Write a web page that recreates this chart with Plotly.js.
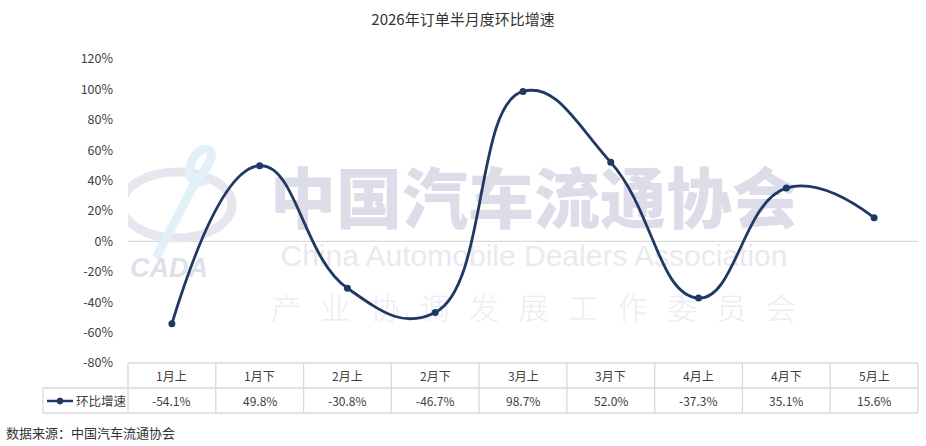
<!DOCTYPE html>
<html>
<head>
<meta charset="utf-8">
<script src="https://cdn.plot.ly/plotly-3.0.1.min.js"></script>
<style>html,body{margin:0;padding:0;background:#fff;}#chart{width:926px;height:446px;}</style>
</head>
<body>
<div id="chart"></div>
<script>
var categories = ['1月上','1月下','2月上','2月下','3月上','3月下','4月上','4月下','5月上'];
var values = [-54.1, 49.8, -30.8, -46.7, 98.7, 52.0, -37.3, 35.1, 15.6];
var valueLabels = ['-54.1%','49.8%','-30.8%','-46.7%','98.7%','52.0%','-37.3%','35.1%','15.6%'];
var seriesName = '环比增速';
var yTicks = [-80,-60,-40,-20,0,20,40,60,80,100,120];
var yTickText = ['-80%','-60%','-40%','-20%','0%','20%','40%','60%','80%','100%','120%'];

var FONT = '"Noto Sans CJK SC", "Microsoft YaHei", sans-serif';
var navy = '#203864';
var gridC = '#d9d9d9';
var n = categories.length;
var rowH = 25/304;
var shapes = [], annotations = [];

// table lines
for (var i=0;i<=n;i++){
  shapes.push({type:'line',xref:'paper',yref:'paper',x0:i/n,x1:i/n,y0:0,y1:-2*rowH,line:{color:gridC,width:1.3},layer:'above'});
}
var leftX = (43-128)/790;
shapes.push({type:'line',xref:'paper',yref:'paper',x0:0,x1:1,y0:0,y1:0,line:{color:gridC,width:1.3}});
shapes.push({type:'line',xref:'paper',yref:'paper',x0:leftX,x1:1,y0:-rowH,y1:-rowH,line:{color:gridC,width:1.3}});
shapes.push({type:'line',xref:'paper',yref:'paper',x0:leftX,x1:1,y0:-2*rowH,y1:-2*rowH,line:{color:gridC,width:1.3}});
shapes.push({type:'line',xref:'paper',yref:'paper',x0:leftX,x1:leftX,y0:-rowH,y1:-2*rowH,line:{color:gridC,width:1.3}});
// zero line across plot
shapes.push({type:'line',xref:'paper',yref:'y2',x0:0,x1:1,y0:0,y1:0,line:{color:gridC,width:1.3},layer:'below'});
// legend key in table
var ly = -1.5*rowH - 0.5/304;
shapes.push({type:'line',xref:'paper',yref:'paper',x0:(47-128)/790,x1:(73-128)/790,y0:ly,y1:ly,line:{color:navy,width:2.5}});
shapes.push({type:'circle',xref:'paper',yref:'paper',x0:(57-128)/790,x1:(63-128)/790,y0:ly-3/304,y1:ly+3/304,fillcolor:navy,line:{color:navy,width:1}});
annotations.push({xref:'paper',yref:'paper',x:(74-128)/790,y:-1.5*rowH,text:seriesName,showarrow:false,xanchor:'left',yanchor:'middle',
  font:{family:FONT,size:12.5,color:'#404040'}});

categories.forEach(function(c,i){
  annotations.push({xref:'paper',yref:'paper',x:(i+0.5)/n,y:-0.5*rowH,text:c,showarrow:false,xanchor:'center',yanchor:'middle',
    font:{family:FONT,size:12,color:'#404040'}});
  annotations.push({xref:'paper',yref:'paper',x:(i+0.5)/n,y:-1.5*rowH,text:valueLabels[i],showarrow:false,xanchor:'center',yanchor:'middle',
    font:{family:FONT,size:12,color:'#404040'}});
});

// source
annotations.push({xref:'paper',yref:'paper',x:(4-128)/790,y:(363-432)/304,text:'数据来源：中国汽车流通协会',showarrow:false,xanchor:'left',yanchor:'middle',
  font:{family:FONT,size:13,color:'#333333'}});

// watermark logo (below everything), on the hidden pixel-like base axes
shapes.push({type:'circle',xref:'x',yref:'y',x0:122,x1:232,y0:172,y1:238,line:{color:'#e6e6ef',width:9},fillcolor:'rgba(0,0,0,0)',layer:'below'});
shapes.push({type:'path',xref:'x',yref:'y',path:'M 156 258 L 190 192 C 198 176 214 162 211 153 C 207 144 193 152 190 167 C 188 180 197 186 206 180',
  fillcolor:'rgba(0,0,0,0)',line:{color:'#e2f1f8',width:9},layer:'below'});

// watermark traces on base subplot; data line on overlay subplot drawn above
var wm2 = '产业协调发展工作委员会'.split('');
var wmX = wm2.map(function(c,i){return 286+i*49.5;});
var wmY = wm2.map(function(){return 311;});
var traces = [
  {x:[534],y:[206],text:['中国汽车流通协会'],type:'scatter',mode:'text',hoverinfo:'none',cliponaxis:false,
   textposition:'middle center',textfont:{family:'"Noto Sans CJK SC"',size:66,color:'#dddde9',weight:900}},
  {x:[534],y:[258],text:['China Automobile Dealers Association'],type:'scatter',mode:'text',hoverinfo:'none',cliponaxis:false,
   textposition:'middle center',textfont:{family:'"Liberation Sans", Arial',size:30,color:'#e9e9ef'}},
  {x:wmX,y:wmY,text:wm2,type:'scatter',mode:'text',hoverinfo:'none',cliponaxis:false,
   textposition:'middle center',textfont:{family:'"Noto Sans CJK SC"',size:30,color:'#ececf2',weight:300}},
  {x:[169],y:[270],text:['CADA'],type:'scatter',mode:'text',hoverinfo:'none',cliponaxis:false,
   textposition:'middle center',textfont:{family:'"Liberation Sans", Arial',size:27,color:'#dfe0ea',weight:'bold',style:'italic'}},
  {
    x: categories, y: values, type:'scatter', mode:'lines+markers', name: seriesName,
    xaxis:'x2', yaxis:'y2',
    line:{color:navy,width:2.8,shape:'spline',smoothing:1.3},
    marker:{color:navy,size:7},
    cliponaxis:false, hoverinfo:'none'
  }
];

var layout = {
  width:926, height:446,
  margin:{l:128,r:8,t:59,b:83},
  paper_bgcolor:'#ffffff', plot_bgcolor:'rgba(0,0,0,0)',
  title:{text:'2026年订单半月度环比增速',x:0.5,xanchor:'center',xref:'container',y:0.955,yanchor:'middle',
    font:{family:FONT,size:15,color:'#333333'}},
  showlegend:false,
  xaxis:{range:[128,918],visible:false,fixedrange:true},
  yaxis:{range:[363,59],visible:false,fixedrange:true},
  xaxis2:{overlaying:'x',type:'category',range:[-0.5,n-0.5],showticklabels:false,showgrid:false,zeroline:false,showline:false,fixedrange:true},
  yaxis2:{overlaying:'y',side:'left',range:[-80,120],tickvals:yTicks,ticktext:yTickText,showgrid:false,zeroline:false,
    showline:false,ticks:'',ticklabelstandoff:14,tickfont:{family:FONT,size:12.5,color:'#404040'},fixedrange:true},
  shapes:shapes, annotations:annotations
};

Plotly.newPlot('chart',traces,layout,{displayModeBar:false,staticPlot:true});
</script>
</body>
</html>
